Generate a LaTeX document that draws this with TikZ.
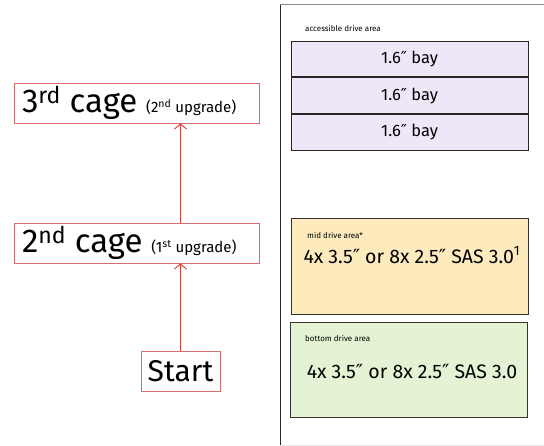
\documentclass[tikz,border=0pt]{standalone}
\usepackage{fontspec}
\setmainfont{Fira Sans}
\newfontfamily\primefont{DejaVu Sans}
\newcommand{\inch}{{\primefont ″}}
\usetikzlibrary{arrows.meta,positioning}
\definecolor{cageline}{HTML}{D46E6A}
\definecolor{upline}{HTML}{E0403C}
\definecolor{baylilac}{HTML}{EEE7F8}
\definecolor{midyellow}{HTML}{FDEBBE}
\definecolor{botgreen}{HTML}{E3F3D3}
\tikzset{>={Straight Barb[length=5pt,width=12pt]}}

\begin{document}
\begin{tikzpicture}[x=1pt,y=1pt,
    cagebox/.style={draw=cageline,line width=0.8pt,minimum height=40pt,inner sep=0pt},
    baybox/.style={draw=black!85,line width=0.9pt,fill=baylilac,minimum width=237pt,minimum height=35.7pt,font=\fontsize{16.5}{16.5}\selectfont},
    areabox/.style={draw=black!80,line width=1pt,minimum width=237pt},
    arealabel/.style={anchor=west,inner sep=0pt,font=\fontsize{8}{8}\selectfont},
    drivetext/.style={font=\fontsize{19.5}{19.5}\selectfont}]
      \useasboundingbox (0,0) rectangle (544,446);
      % upgrade path
      \node [cagebox,inner xsep=8pt] (cage3) at (136.5,343) {\makebox[229pt][l]{\fontsize{33}{33}\selectfont 3\textsuperscript{rd} cage \fontsize{15}{15}\selectfont(2\textsuperscript{nd} upgrade)}};
      \node [cagebox,inner xsep=8pt] (cage2) at (136.5,203) {\makebox[229pt][l]{\fontsize{33}{33}\selectfont 2\textsuperscript{nd} cage \fontsize{15}{15}\selectfont(1\textsuperscript{st} upgrade)}};
      \node [cagebox,minimum width=79pt,font=\fontsize{30}{30}\selectfont] (start) at (180.5,75) {Start};
      \draw [->,upline,line width=1pt] (start.north) -- (start.north |- cage2.south);
      \draw [->,upline,line width=1pt] (start.north |- cage2.north) -- (start.north |- cage3.south);

      % chassis
      \draw [black!85,line width=1pt] (280,0) -- (280,441);
      \draw [black!45,line width=1pt] (280,441) -- (544,441);
      \draw [black!8,line width=0.6pt] (280,1) -- (544,1);

      % accessible drive area
      \node [arealabel] (acclabel) at (305,418) {accessible drive area};
      \node [baybox] (bay1) at (409.5,387) {1.6\inch{} bay};
      \node [baybox,below=0pt of bay1] (bay2) {1.6\inch{} bay};
      \node [baybox,below=0pt of bay2] (bay3) {1.6\inch{} bay};

      % mid drive area
      \node [areabox,fill=midyellow,minimum height=96pt] (mid) at (409.5,179) {};
      \node [arealabel] (midlabel) at (307,211) {mid drive area*};
      \node [drivetext] (midtext) at (412,191) {4x 3.5\inch{} or 8x 2.5\inch{} SAS 3.0\textsuperscript{1}};

      % bottom drive area
      \node [areabox,fill=botgreen,minimum height=95pt] (bottom) at (409,75.5) {};
      \node [arealabel] (botlabel) at (305,108) {bottom drive area};
      \node [drivetext] (bottext) at (412,74) {4x 3.5\inch{} or 8x 2.5\inch{} SAS 3.0};
    \end{tikzpicture}
\end{document}
